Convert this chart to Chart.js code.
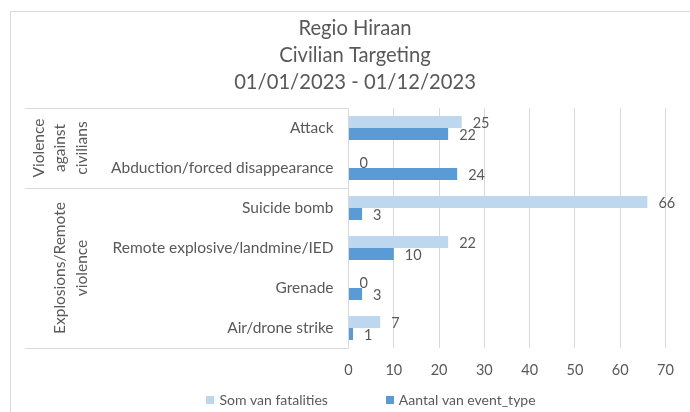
<!DOCTYPE html>
<html>
<head>
<meta charset="utf-8">
<script src="https://cdn.jsdelivr.net/npm/chart.js@4.4.0/dist/chart.umd.min.js"></script>
<style>
  html, body { margin: 0; padding: 0; background: #fff; overflow: hidden; }
  #wrap { position: relative; width: 690px; height: 412px; overflow: hidden; }
  #frame { position: absolute; left: 10px; top: 11px; width: 740px; height: 440px; border: 1px solid #d9d9d9; }
  #hiraanChart { position: absolute; left: 0; top: 0; }
</style>
</head>
<body>
<div id="wrap">
  <div id="frame"></div>
  <canvas id="hiraanChart" width="690" height="412"></canvas>
</div>
<script>
const titleLines = ['Regio Hiraan', 'Civilian Targeting', '01/01/2023 - 01/12/2023'];
const eventTypes = ['Attack', 'Abduction/forced disappearance', 'Suicide bomb',
    'Remote explosive/landmine/IED', 'Grenade', 'Air/drone strike'];
const groupNames = [['Violence', 'against', 'civilians'], ['Explosions/Remote', 'violence']];
const groupSizes = [2, 4];
const fatalities = [25, 0, 66, 22, 0, 7];
const eventCounts = [22, 24, 3, 10, 3, 1];
const xTicks = [0, 10, 20, 30, 40, 50, 60, 70];

const FONT = 'Lato, "Open Sans", sans-serif';
const TEXT = '#595959';
const LINE = '#d9d9d9';

// value next to the end of every bar
const barValues = {
    id: 'barValues',
    afterDatasetsDraw(chart) {
        const ctx = chart.ctx;
        ctx.save();
        ctx.font = `14.5px ${FONT}`;
        ctx.fillStyle = TEXT;
        ctx.textAlign = 'left';
        ctx.textBaseline = 'middle';
        chart.data.datasets.forEach((ds, i) => {
            chart.getDatasetMeta(i).data.forEach((bar, j) => {
                ctx.fillText(String(ds.data[j]), bar.x + 11, bar.y + 1);
            });
        });
        ctx.restore();
    }
};

// second level of the category axis: event groups with divider lines
const groupAxis = {
    id: 'groupAxis',
    afterDraw(chart) {
        const ctx = chart.ctx;
        const y = chart.scales.y;
        const left = 25;
        const right = chart.chartArea.left;
        const step = y.getPixelForValue(1) - y.getPixelForValue(0);
        const edge = i => y.getPixelForValue(i) - step / 2;

        ctx.save();
        ctx.strokeStyle = LINE;
        ctx.lineWidth = 1;
        ctx.font = `15.5px ${FONT}`;
        ctx.fillStyle = TEXT;
        ctx.textAlign = 'center';
        ctx.textBaseline = 'middle';

        let start = 0;
        const bounds = [edge(0)];
        groupSizes.forEach((size, g) => {
            const top = edge(start);
            const bottom = edge(start + size);
            bounds.push(bottom);
            const lines = groupNames[g];
            const midY = (top + bottom) / 2;
            lines.forEach((txt, k) => {
                const x = 81.5 - (lines.length - 1 - k) * 21.5;
                ctx.save();
                ctx.translate(x, midY);
                ctx.rotate(-Math.PI / 2);
                ctx.fillText(txt, 0, 0);
                ctx.restore();
            });
            start += size;
        });

        bounds.forEach(b => {
            const py = Math.round(b) + 0.5;
            ctx.beginPath();
            ctx.moveTo(left, py);
            ctx.lineTo(right, py);
            ctx.stroke();
        });
        ctx.restore();
    }
};

// legend row under the axis
const bottomLegend = {
    id: 'bottomLegend',
    afterDraw(chart) {
        const ctx = chart.ctx;
        const box = 8, gap = 5, spacing = 58;
        const cx = 371, cy = 400;
        ctx.save();
        ctx.font = `14px ${FONT}`;
        ctx.textBaseline = 'middle';
        ctx.textAlign = 'left';
        const items = chart.data.datasets.map(ds => ({
            label: ds.label, color: ds.backgroundColor,
            w: box + gap + ctx.measureText(ds.label).width
        }));
        const total = items.reduce((s, it) => s + it.w, 0) + spacing * (items.length - 1);
        let x = cx - total / 2;
        items.forEach(it => {
            ctx.fillStyle = it.color;
            ctx.fillRect(Math.round(x), cy - box / 2, box, box);
            ctx.fillStyle = TEXT;
            ctx.fillText(it.label, x + box + gap, cy);
            x += it.w + spacing;
        });
        ctx.restore();
    }
};

const ctx = document.getElementById('hiraanChart').getContext('2d');
new Chart(ctx, {
    type: 'bar',
    data: {
        labels: eventTypes,
        datasets: [
            {
                label: 'Som van fatalities',
                data: fatalities,
                backgroundColor: '#bdd7ee'
            },
            {
                label: 'Aantal van event_type',
                data: eventCounts,
                backgroundColor: '#5b9bd5'
            }
        ]
    },
    options: {
        indexAxis: 'y',
        responsive: false,
        animation: false,
        categoryPercentage: 0.6,
        barPercentage: 1.0,
        layout: {
            // x axis is label height + 2 * tick padding tall
            padding: { left: 44.5, right: 24.5, top: 0, bottom: 18.6 }
        },
        scales: {
            x: {
                min: xTicks[0],
                max: xTicks[xTicks.length - 1],
                ticks: {
                    stepSize: xTicks[1] - xTicks[0],
                    color: TEXT,
                    padding: 14,
                    font: { family: FONT, size: 14.5 }
                },
                grid: { color: LINE, drawTicks: false },
                border: { display: false }
            },
            y: {
                ticks: {
                    color: TEXT,
                    padding: 15,
                    font: { family: FONT, size: 15.5 }
                },
                grid: { display: false, drawTicks: false },
                border: { display: false },
                afterFit(scale) {
                    scale.width = 304;
                }
            }
        },
        plugins: {
            legend: { display: false },
            tooltip: { enabled: false },
            title: {
                display: true,
                text: titleLines,
                color: TEXT,
                font: { family: FONT, size: 20.2, weight: 'normal', lineHeight: '27px' },
                padding: { top: 14.5, bottom: 12.5 }
            }
        }
    },
    plugins: [barValues, groupAxis, bottomLegend]
});
</script>
</body>
</html>
